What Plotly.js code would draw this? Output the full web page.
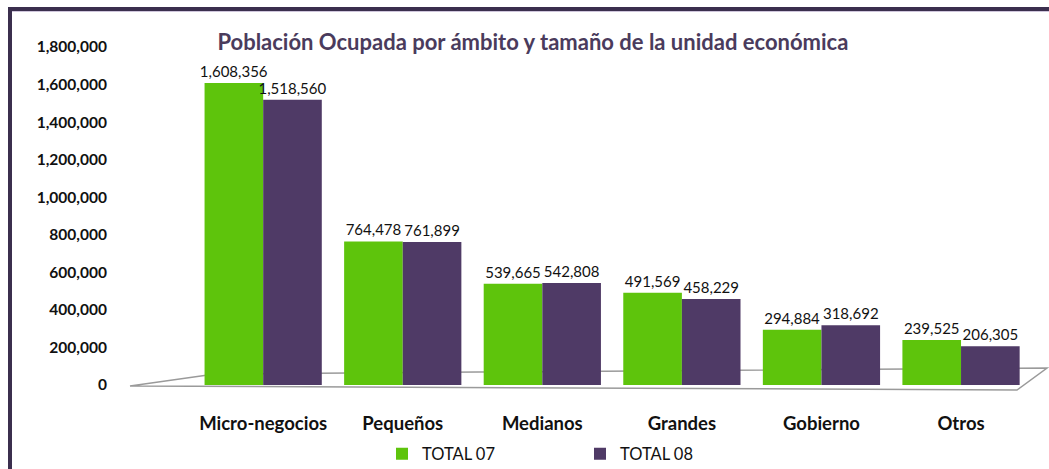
<!DOCTYPE html>
<html>
<head>
<meta charset="utf-8">
<script src="https://cdn.plot.ly/plotly-3.0.1.min.js"></script>
<style>
  html, body { margin: 0; padding: 0; background: #fff; }
  #wrap { position: relative; width: 1049px; height: 469px; }
  #chart { position: absolute; left: 0; top: 0; width: 1049px; height: 469px; }
  #frame { position: absolute; left: 8px; top: 7px; right: 0; bottom: 0;
           border-left: 4px solid #3b2f4e; border-top: 4px solid #3b2f4e;
           box-shadow: inset 0 1px 0 #cfc6dc; pointer-events: none; }
</style>
</head>
<body>
<div id="wrap">
  <div id="chart"></div>
  <div id="frame"></div>
</div>
<script>
const categories = ["Micro-negocios", "Pequeños", "Medianos", "Grandes", "Gobierno", "Otros"];
const total07 = [1608356, 764478, 539665, 491569, 294884, 239525];
const total08 = [1518560, 761899, 542808, 458229, 318692, 206305];
const seriesNames = ["TOTAL 07", "TOTAL 08"];
const yTicks = [0, 200000, 400000, 600000, 800000, 1000000, 1200000, 1400000, 1600000, 1800000];

const W = 1049, H = 469;
const M = { l: 125, r: 14, t: 47, b: 84, autoexpand: false };
const PW = W - M.l - M.r, PH = H - M.t - M.b;
const px = X => (X - M.l) / PW;
const py = Y => (H - M.b - Y) / PH;

const fmt = v => v.toLocaleString('en-US');

const traces = [
  {
    type: 'bar', name: seriesNames[0], x: categories, y: total07,
    marker: { color: '#5ec40c', line: { width: 0 } },
    text: total07.map(fmt), textposition: 'outside', cliponaxis: false, constraintext: 'none',
    textfont: { family: 'Lato, sans-serif', size: 15, color: '#111' }
  },
  {
    type: 'bar', name: seriesNames[1], x: categories, y: total08,
    marker: { color: '#4f3a66', line: { width: 0 } },
    text: total08.map(fmt), textposition: 'outside', cliponaxis: false, constraintext: 'none',
    textfont: { family: 'Lato, sans-serif', size: 15, color: '#111' }
  }
];

const floorPath = `M ${px(130)} ${py(386)} L ${px(215)} ${py(374)} L ${px(1047)} ${py(368)} L ${px(1017)} ${py(390)} Z`;

const layout = {
  width: W, height: H,
  margin: M,
  paper_bgcolor: '#ffffff', plot_bgcolor: 'rgba(0,0,0,0)',
  barmode: 'group', bargap: 0.16, bargroupgap: 0,
  title: {
    text: 'Población Ocupada por ámbito y tamaño de la unidad económica',
    font: { family: 'Lato, sans-serif', size: 22, color: '#4a3b5c', weight: 'bold' },
    x: 0.508, xanchor: 'center', y: 0.91, yanchor: 'middle'
  },
  xaxis: {
    type: 'category', range: [-0.99, 5.53],
    showgrid: false, zeroline: false, showline: false,
    ticks: 'outside', ticklen: 22, tickcolor: 'rgba(0,0,0,0)',
    tickfont: { family: 'Lato, sans-serif', size: 18.5, color: '#111', weight: 'bold' }
  },
  yaxis: {
    range: [0, 1800000], tickvals: yTicks, tickformat: ',d',
    showgrid: false, zeroline: false, showline: false,
    ticks: 'outside', ticklen: 14, tickcolor: 'rgba(0,0,0,0)',
    tickfont: { family: 'Lato, sans-serif', size: 15.5, color: '#111', weight: 'bold' }
  },
  legend: {
    orientation: 'h', x: px(382), xanchor: 'left', y: py(454), yanchor: 'middle',
    entrywidth: 153, entrywidthmode: 'pixels',
    font: { family: 'Lato, sans-serif', size: 16.5, color: '#111' },
    itemwidth: 30, bgcolor: 'rgba(0,0,0,0)'
  },
  shapes: [
    { type: 'path', xref: 'paper', yref: 'paper', path: floorPath,
      fillcolor: '#ffffff', line: { color: '#9a9a9a', width: 1.5 }, layer: 'below' }
  ]
};

Plotly.newPlot('chart', traces, layout, { displayModeBar: false, staticPlot: true });
</script>
</body>
</html>
